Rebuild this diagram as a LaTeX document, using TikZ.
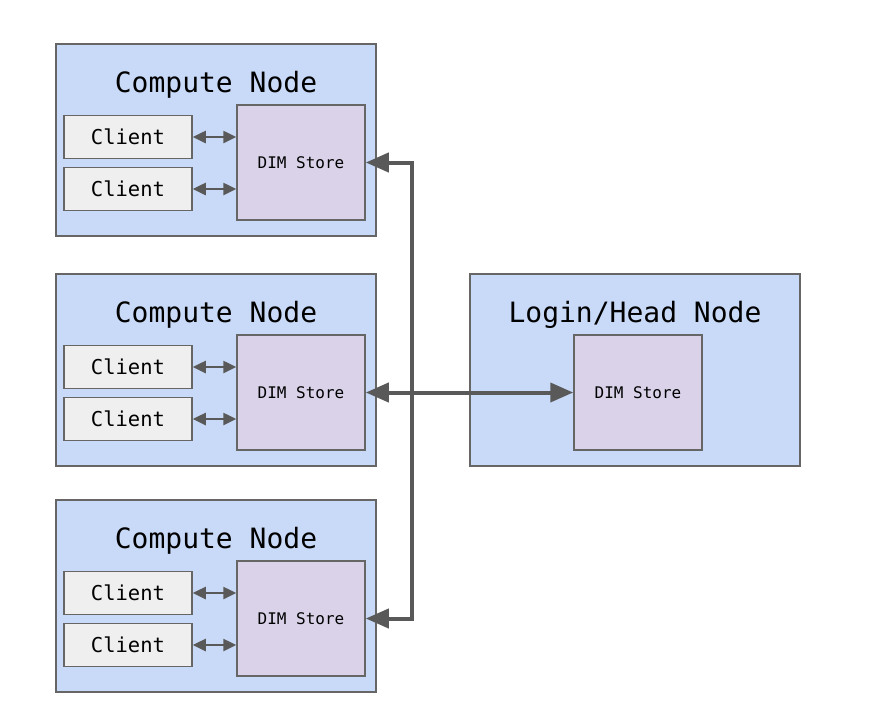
\documentclass[tikz,border=0pt]{standalone}
\usepackage{fontspec}
\setmonofont{DejaVu Sans Mono}
\usetikzlibrary{arrows.meta}
\definecolor{nodeblue}{HTML}{C9DAF8}
\definecolor{storelilac}{HTML}{D9D2E9}
\definecolor{clientgray}{HTML}{EFEFEF}
\definecolor{edgegray}{HTML}{666666}
\definecolor{linkgray}{HTML}{595959}
\tikzset{
  hostbox/.style={draw=edgegray, line width=1.5pt, fill=nodeblue, minimum height=192pt},
  hosttitle/.style={font=\ttfamily\fontsize{28}{30}\selectfont},
  storebox/.style={draw=edgegray, line width=1.5pt, fill=storelilac, minimum width=128pt, minimum height=115pt, font=\ttfamily\fontsize{16}{18}\selectfont},
  clientbox/.style={draw=edgegray, line width=1.5pt, fill=clientgray, minimum width=128pt, minimum height=43pt, font=\ttfamily\fontsize{20.5}{22}\selectfont},
  locallink/.style={linkgray, line width=2.5pt, {Triangle[length=13pt,width=12pt]}-{Triangle[length=13pt,width=12pt]}},
  buslink/.style={linkgray, line width=4pt, {Triangle[length=23pt,width=19pt]}-{Triangle[length=23pt,width=19pt]}}
}

\begin{document}
\begin{tikzpicture}[line join=miter,x=1pt,y=-1pt]
\useasboundingbox (0,0) rectangle (870,726);
% compute nodes
\foreach \i/\y in {1/44, 2/274, 3/500} {
  \node[hostbox, minimum width=320pt] (cn\i) at (216,{\y+96}) {};
  \node[hosttitle] (cnt\i) at (216,{\y+41}) {Compute Node};
  \node[clientbox] (cla\i) at (128,{\y+93}) {Client};
  \node[clientbox] (clb\i) at (128,{\y+145}) {Client};
  \node[storebox] (st\i) at (301,{\y+118.5}) {DIM Store};
  \draw[locallink] (cla\i.east) -- (cla\i.east -| st\i.west);
  \draw[locallink] (clb\i.east) -- (clb\i.east -| st\i.west);
}
% login / head node
\node[hostbox, minimum width=330pt] (hn) at (635,370) {};
\node[hosttitle] (hnt) at (635,315) {Login/Head Node};
\node[storebox] (hst) at (638,392.5) {DIM Store};
% links between stores
\coordinate (bus) at (412,0);
\draw[buslink] (st1.east) -- (st1.east -| bus) -- (st3.east -| bus) -- (st3.east);
\draw[buslink] (st2.east) -- (st2.east -| hst.west);
\end{tikzpicture}
\end{document}
